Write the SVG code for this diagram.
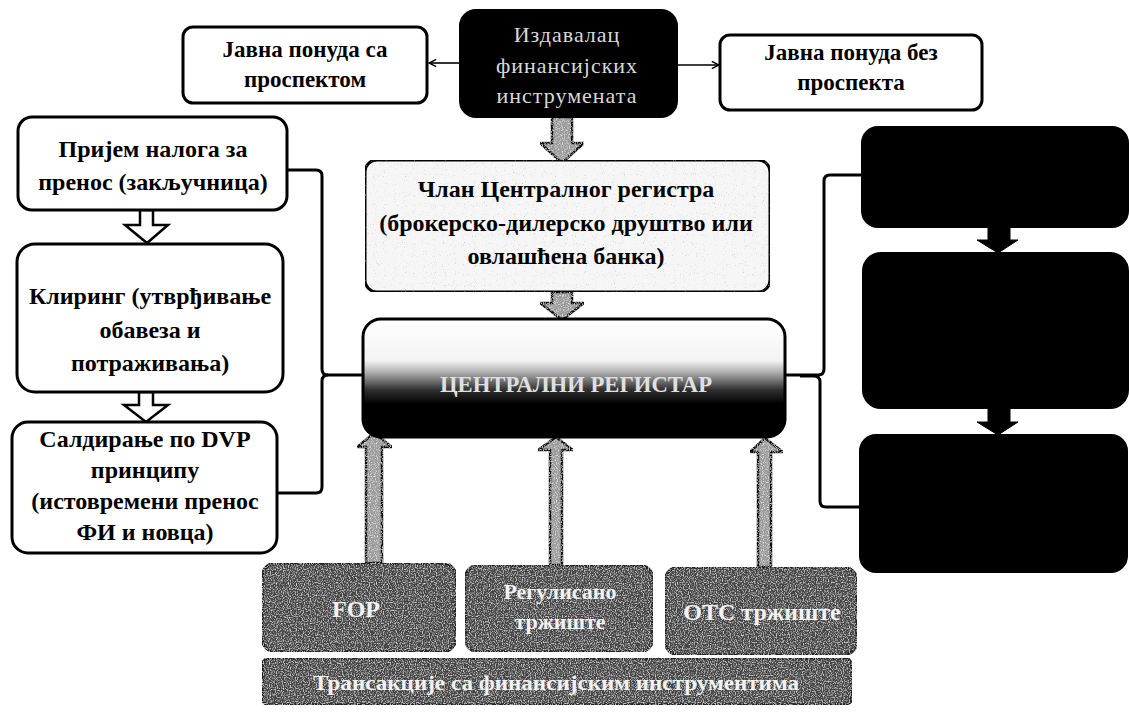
<svg xmlns="http://www.w3.org/2000/svg" width="1129" height="713" viewBox="0 0 1129 713">
<style>
.box{fill:#ffffff;stroke:#000;stroke-width:3}
.blk{fill:#000;stroke:#000;stroke-width:2}
.t{font-family:"Liberation Serif","DejaVu Serif",serif;font-weight:bold;font-size:24px;fill:#000;text-anchor:middle}
.t2{font-size:23px}
.tw{font-family:"Liberation Serif","DejaVu Serif",serif;font-size:22px;fill:#d8d8d8;text-anchor:middle;letter-spacing:1px}
.tg{font-family:"Liberation Serif","DejaVu Serif",serif;font-weight:bold;font-size:22px;fill:#f2f2f2;text-anchor:middle}
.dark{fill:#454545;stroke:#222;stroke-width:3}
.ln{fill:none;stroke:#000;stroke-width:3}
.thin{fill:none;stroke:#000;stroke-width:1.6}
.hollow{fill:#fff;stroke:#000;stroke-width:2.5;stroke-linejoin:miter}
.gray{fill:#9a9a9a;stroke:#111;stroke-width:2.5}
.barrow{fill:#000;stroke:#000;stroke-width:1}
</style>
<defs>
<marker id="open" viewBox="0 0 10 10" refX="9" refY="5" markerWidth="9" markerHeight="9" markerUnits="userSpaceOnUse" orient="auto">
<path d="M1,1 L9,5 L1,9" fill="none" stroke="#000" stroke-width="1.6"/>
</marker>
<linearGradient id="cr" x1="0" y1="0" x2="0" y2="1">
<stop offset="0" stop-color="#ffffff"/>
<stop offset="0.35" stop-color="#f4f4f4"/>
<stop offset="0.45" stop-color="#b0b0b0"/>
<stop offset="0.6" stop-color="#303030"/>
<stop offset="0.72" stop-color="#000000"/>
<stop offset="1" stop-color="#000000"/>
</linearGradient>
<filter id="grain" x="0" y="0" width="100%" height="100%">
<feTurbulence type="fractalNoise" baseFrequency="0.85" numOctaves="1" seed="4" result="n"/>
<feColorMatrix in="n" type="matrix" values="0 0 0 0 1  0 0 0 0 1  0 0 0 0 1  2.2 0 0 0 -1.05" result="w"/>
<feComposite in="w" in2="SourceAlpha" operator="in" result="ws"/>
<feMerge><feMergeNode in="SourceGraphic"/><feMergeNode in="ws"/></feMerge>
</filter>
<filter id="dots" x="0" y="0" width="100%" height="100%">
<feTurbulence type="fractalNoise" baseFrequency="0.9" numOctaves="1" seed="7" result="n"/>
<feColorMatrix in="n" type="matrix" values="0 0 0 0 0.3  0 0 0 0 0.3  0 0 0 0 0.3  3 0 0 0 -1.9" result="d"/>
<feComposite in="d" in2="SourceAlpha" operator="in" result="ds"/>
<feMerge><feMergeNode in="SourceGraphic"/><feMergeNode in="ds"/></feMerge>
</filter>
</defs>

<g id="connectors">
<line class="thin" x1="460" y1="63" x2="429" y2="63" marker-end="url(#open)"/>
<line class="thin" x1="677" y1="65" x2="719" y2="65" marker-end="url(#open)"/>
<path class="gray" filter="url(#grain)" d="M552,117 V143 H540 L562,163 L584,143 H572 V117 Z"/>
<path class="gray" filter="url(#grain)" d="M552,292 V303 H540 L562,320 L584,303 H572 V292 Z"/>
<path class="hollow" d="M140,210 V225 H125 L147,243 L168,225 H153 V210 Z"/>
<path class="hollow" d="M139,392 V405 H124 L146,422 L168,405 H153 V392 Z"/>
<path class="ln" d="M287,170 H316 Q322,170 322,176 V369 Q322,375 328,375 H364"/>
<path class="ln" d="M277,493 H316 Q322,493 322,487 V381 Q322,375 328,375"/>
<path class="ln" d="M785,375 H818 Q824,375 824,369 V181 Q824,175 830,175 H862"/>
<path class="ln" d="M800,376 H814 Q820,376 820,382 V501 Q820,507 826,507 H860"/>
<path class="gray" filter="url(#grain)" d="M366,563 V447 H357 L374,433 L392,447 H382 V563 Z"/>
<path class="gray" filter="url(#grain)" d="M550,565 V450 H538 L556,437 L573,450 H562 V565 Z"/>
<path class="gray" filter="url(#grain)" d="M758,567 V452 H750 L765,438 L783,452 H771 V567 Z"/>
<path class="barrow" d="M988,227 V240 H977 L998,253 L1018,240 H1010 V227 Z"/>
<path class="barrow" d="M988,408 V422 H977 L998,435 L1018,422 H1010 V408 Z"/>
</g>

<g id="issuer">
<rect class="blk" x="460" y="10" width="217" height="107" rx="16"/>
<text class="tw" x="567" y="42">Издавалац</text>
<text class="tw" x="567" y="73">финансијских</text>
<text class="tw" x="567" y="103">инструмената</text>
</g>

<g id="offer-with">
<rect class="box" x="183" y="27" width="244" height="76" rx="10"/>
<text class="t t2" x="305" y="57">Јавна понуда са</text>
<text class="t t2" x="305" y="87">проспектом</text>
</g>

<g id="offer-without">
<rect class="box" x="720" y="35" width="262" height="75" rx="10"/>
<text class="t t2" x="851" y="60">Јавна понуда без</text>
<text class="t t2" x="851" y="90">проспекта</text>
</g>

<g id="member">
<rect class="box" x="365" y="160" width="405" height="132" rx="12" style="fill:#f6f6f6" filter="url(#dots)"/>
<text class="t" x="566" y="197">Члан Централног регистра</text>
<text class="t" x="566" y="231">(брокерско-дилерско друштво или</text>
<text class="t" x="566" y="264">овлашћена банка)</text>
</g>

<g id="central-registry">
<rect x="363" y="319" width="422" height="118" rx="18" fill="url(#cr)" stroke="#000" stroke-width="3"/>
<text class="tg" x="576" y="392" style="font-size:24px;fill:#e0e0e0" textLength="272" lengthAdjust="spacingAndGlyphs">ЦЕНТРАЛНИ РЕГИСТАР</text>
</g>

<g id="order">
<rect class="box" x="18" y="117" width="269" height="93" rx="14"/>
<text class="t" x="153" y="157">Пријем налога за</text>
<text class="t" x="153" y="190">пренос (закључница)</text>
</g>

<g id="clearing">
<rect class="box" x="17" y="244" width="266" height="148" rx="18"/>
<text class="t" x="150" y="304">Клиринг (утврђивање</text>
<text class="t" x="150" y="338">обавеза и</text>
<text class="t" x="150" y="371">потраживања)</text>
</g>

<g id="settlement">
<rect class="box" x="12" y="422" width="265" height="131" rx="16"/>
<text class="t" x="145" y="447">Салдирање по DVP</text>
<text class="t" x="145" y="478">принципу</text>
<text class="t" x="145" y="509">(истовремени пренос</text>
<text class="t" x="145" y="540">ФИ и новца)</text>
</g>

<g id="right-1"><rect class="blk" x="862" y="127" width="266" height="100" rx="16"/></g>
<g id="right-2"><rect class="blk" x="863" y="253" width="265" height="155" rx="18"/></g>
<g id="right-3"><rect class="blk" x="860" y="435" width="267" height="137" rx="16"/></g>

<g id="fop">
<rect class="dark" x="262" y="563" width="194" height="89" rx="14" filter="url(#grain)"/>
<text class="tg" x="356" y="617" style="font-size:24px">FOP</text>
</g>

<g id="regulated">
<rect class="dark" x="465" y="565" width="188" height="87" rx="14" filter="url(#grain)"/>
<text class="tg" x="560" y="599">Регулисано</text>
<text class="tg" x="560" y="629">тржиште</text>
</g>

<g id="otc">
<rect class="dark" x="665" y="567" width="192" height="88" rx="14" filter="url(#grain)"/>
<text class="tg" x="762" y="620" style="font-size:24px">ОТС тржиште</text>
</g>

<g id="transactions">
<rect class="dark" x="262" y="658" width="590" height="47" rx="8" filter="url(#grain)"/>
<text class="tg" x="556" y="690" textLength="486" lengthAdjust="spacingAndGlyphs">Трансакције са финансијским инструментима</text>
</g>
</svg>
